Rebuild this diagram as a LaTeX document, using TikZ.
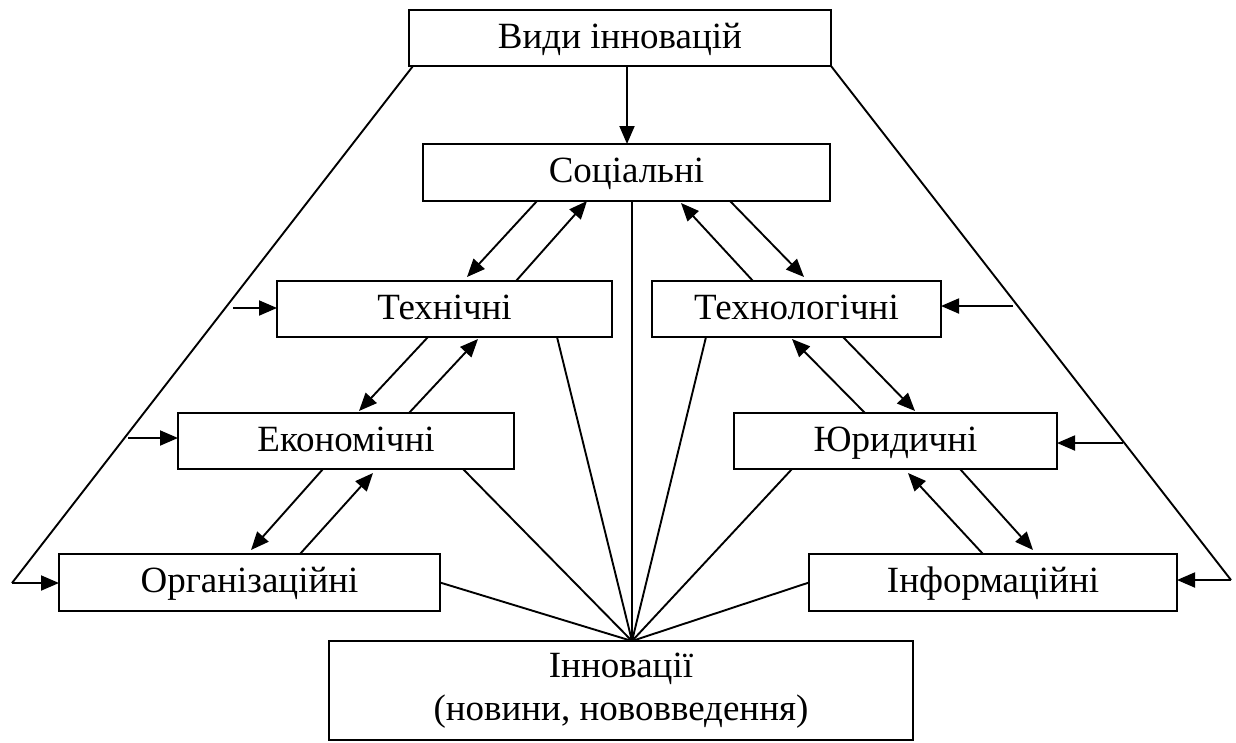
\documentclass[tikz,border=0pt]{standalone}
\usepackage{fontspec}
\setmainfont{Liberation Serif}
\usetikzlibrary{
  positioning,
  arrows.meta
}

\begin{document}
\begin{tikzpicture}[
  x=1pt, y=-1pt,
  box/.style={draw, line width=2.2pt, minimum height=56pt, inner sep=0pt, outer sep=0pt,
              align=center, font=\fontsize{37}{43}\selectfont},
  cell/.style={box, text height=27pt, text depth=7pt},
  link/.style={line width=1.9pt},
  arr/.style={link, -{Triangle[length=18pt, width=15pt]}}
]
  \useasboundingbox (0,0) rectangle (1236,742);

  \node[cell, minimum width=422pt] (vydy) at (620, 38) {Види інновацій};
  \node[cell, minimum width=407pt, minimum height=57pt] (social) at (626.5, 172.5) {Соціальні};
  \node[cell, minimum width=335pt] (tech) at (444.5, 309) {Технічні};
  \node[cell, minimum width=289pt] (techlog) at (796.5, 309) {Технологічні};
  \node[cell, minimum width=336pt] (econ) at (346, 441) {Економічні};
  \node[cell, minimum width=323pt] (legal) at (895.5, 441) {Юридичні};
  \node[cell, minimum width=381pt, minimum height=57pt] (org) at (249.5, 582.5) {Організаційні};
  \node[cell, minimum width=368pt, minimum height=57pt] (info) at (993, 582.5) {Інформаційні};
  \node[box, minimum width=584pt, minimum height=99pt] (innov) at (621, 690.5) {
    Інновації\\
    (новини, нововведення)
  };

  \coordinate (hub) at ([xshift=11pt]innov.north);
  \coordinate (lfoot) at (12, 583);
  \coordinate (rfoot) at (1231, 580);
  \coordinate (ltech) at (233, 308);
  \coordinate (lecon) at (128, 438);
  \coordinate (rtechlog) at (1013, 306);
  \coordinate (rlegal) at (1123, 443);

  \draw[arr] ([xshift=7pt]vydy.south) -- ([xshift=0.5pt]social.north);

  \draw[link] ([xshift=4pt]vydy.south west) -- (lfoot);
  \draw[arr] (lfoot) -- (lfoot -| org.west);
  \draw[arr] (ltech) -- (ltech -| tech.west);
  \draw[arr] (lecon) -- (lecon -| econ.west);

  \draw[link] (vydy.south east) -- (rfoot);
  \draw[arr] (rfoot) -- (rfoot -| info.east);
  \draw[arr] (rtechlog) -- (rtechlog -| techlog.east);
  \draw[arr] (rlegal) -- (rlegal -| legal.east);

  \draw[arr] ([xshift=-89.5pt]social.south) -- ([xshift=22.5pt, yshift=4pt]tech.north);
  \draw[arr] ([xshift=71.5pt]tech.north) -- ([xshift=-39.5pt]social.south);
  \draw[arr] ([xshift=-16.5pt]tech.south) -- ([xshift=13pt, yshift=2pt]econ.north);
  \draw[arr] ([xshift=63pt]econ.north) -- ([xshift=33.5pt, yshift=-2pt]tech.south);
  \draw[arr] ([xshift=-23pt]econ.south) -- ([xshift=1.5pt, yshift=4pt]org.north);
  \draw[arr] ([xshift=50.5pt]org.north) -- ([xshift=27pt, yshift=-4pt]econ.south);

  \draw[arr] ([xshift=103.5pt]social.south) -- ([xshift=7.5pt, yshift=4pt]techlog.north);
  \draw[arr] ([xshift=-43.5pt]techlog.north) -- ([xshift=54.5pt, yshift=-2pt]social.south);
  \draw[arr] ([xshift=46.5pt]techlog.south) -- ([xshift=19.5pt, yshift=2pt]legal.north);
  \draw[arr] ([xshift=-30.5pt]legal.north) -- ([xshift=-4.5pt, yshift=-2pt]techlog.south);
  \draw[arr] ([xshift=64.5pt]legal.south) -- ([xshift=40pt, yshift=4pt]info.north);
  \draw[arr] ([xshift=-10pt]info.north) -- ([xshift=12.5pt, yshift=-4pt]legal.south);

  \draw[link] (org.east) -- (hub);
  \draw[link] ([xshift=117pt]econ.south) -- (hub);
  \draw[link] ([xshift=112.5pt]tech.south) -- (hub);
  \draw[link] ([xshift=5.5pt]social.south) -- (hub);
  \draw[link] ([xshift=-90.5pt]techlog.south) -- (hub);
  \draw[link] ([xshift=-103.5pt]legal.south) -- (hub);
  \draw[link] (info.west) -- (hub);
\end{tikzpicture}
\end{document}
